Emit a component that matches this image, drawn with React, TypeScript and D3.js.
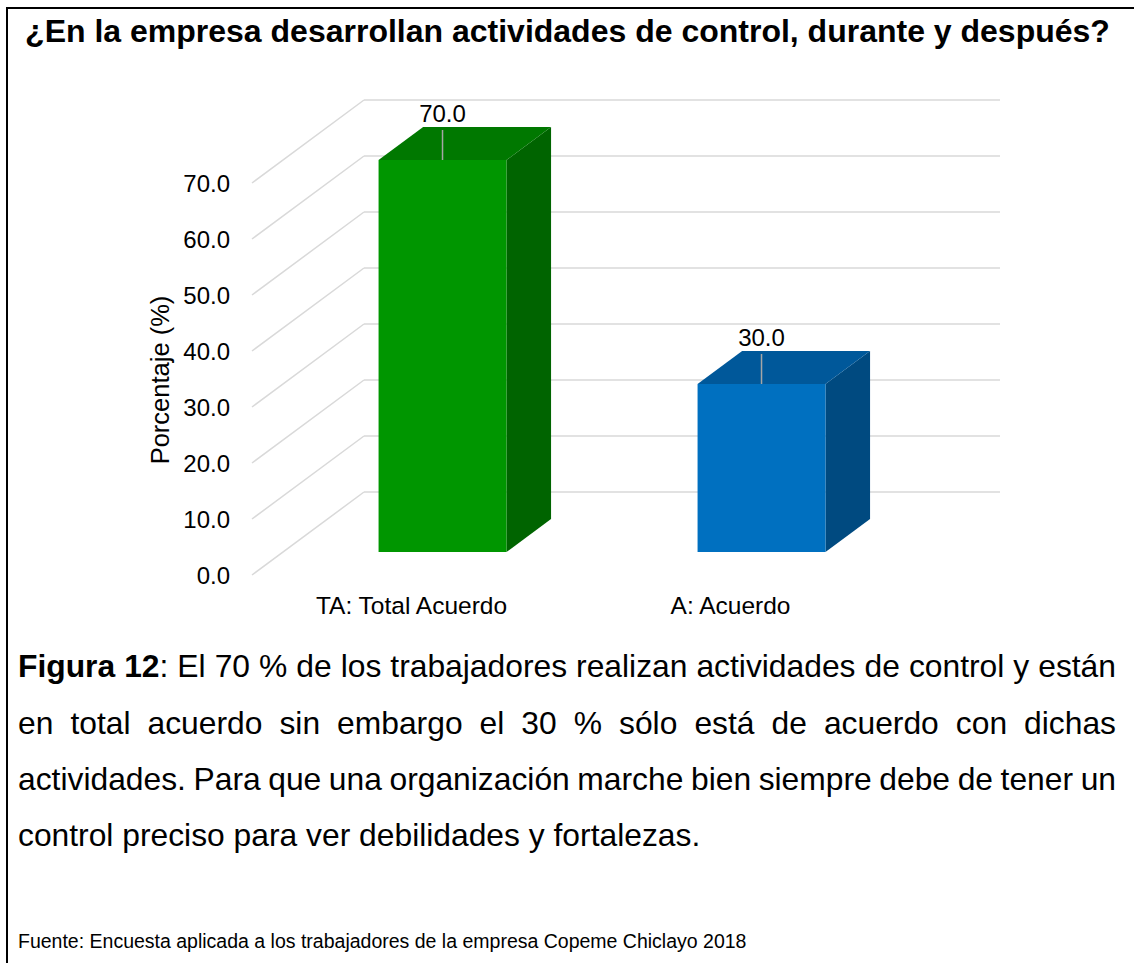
import React, { useMemo } from "react";
import * as d3 from "d3";

const categories = ["TA: Total Acuerdo", "A: Acuerdo"];
const values = [70.0, 30.0];
const yTicks = [0, 10, 20, 30, 40, 50, 60, 70];

const titleText = "¿En la empresa desarrollan actividades de control, durante y después?";
const yAxisTitle = "Porcentaje (%)";
const captionLines: { t: string; b?: boolean }[][][] = [
  [
    [{ t: "Figura", b: true }],
    [{ t: "12", b: true }, { t: ":" }],
    ..."El 70 % de los trabajadores realizan actividades de control y están".split(" ").map((w) => [{ t: w }]),
  ],
  "en total acuerdo sin embargo el 30 % sólo está de acuerdo con dichas".split(" ").map((w) => [{ t: w }]),
  "actividades. Para que una organización marche bien siempre debe de tener un".split(" ").map((w) => [{ t: w }]),
  "control preciso para ver debilidades y fortalezas.".split(" ").map((w) => [{ t: w }]),
];
const justified = [true, true, true, false];
const sourceText = "Fuente: Encuesta aplicada a los trabajadores de la empresa Copeme Chiclayo 2018";

const FONT = '"Liberation Sans", Arial, sans-serif';
const W = 1134;
const H = 963;

const colors = [
  { front: "#009600", top: "#007800", side: "#006400" },
  { front: "#0070C0", top: "#00589A", side: "#004A80" },
];

export default function App() {
  const x = d3.scaleBand<string>().domain(categories).range([252, 890]).paddingInner(0).paddingOuter(0);
  const y = d3.scaleLinear().domain([0, 70]).range([575, 183]);
  const DX = 112;
  const DY = -83;
  const z0 = 0.277;
  const z1 = 0.675;
  const barW = x.bandwidth() * 0.401;

  const capFont = 31.8;
  const capLeft = 18;
  const capRight = 1116;
  const capBase = [677, 734, 790, 846];

  const layout = useMemo(() => {
    const canvas = document.createElement("canvas");
    const ctx = canvas.getContext("2d")!;
    const measure = (s: string, b?: boolean) => {
      ctx.font = `${b ? "bold " : ""}${capFont}px ${FONT}`;
      return ctx.measureText(s).width;
    };
    const spaceW = measure(" ");
    return captionLines.map((words, li) => {
      const widths = words.map((w) => w.reduce((a, seg) => a + measure(seg.t, seg.b), 0));
      const total = widths.reduce((a, b) => a + b, 0);
      const gap = justified[li] ? (capRight - capLeft - total) / (words.length - 1) : spaceW;
      let cx = capLeft;
      return words.map((w, i) => {
        const pos = cx;
        cx += widths[i] + gap;
        return { w, x: pos };
      });
    });
  }, []);

  const P = (px: number, py: number, z: number) => [px + DX * z, py + DY * z];

  return (
    <svg
      width={W}
      height={H}
      style={{ position: "absolute", left: 0, top: 0, background: "#fff" }}
      fontFamily={FONT}
    >
      <rect x={0} y={0} width={W} height={H} fill="#fff" />
      <path d={`M7,${H} V8 H${W}`} fill="none" stroke="#000" strokeWidth={2} />

      <text x={W / 2 + 0.5} y={42} textAnchor="middle" fontSize={32} fontWeight="bold" fill="#000">
        {titleText}
      </text>

      {yTicks.map((t) => {
        const x0 = x.range()[0];
        const x1 = x.range()[1];
        const yy = y(t);
        return (
          <g key={t}>
            <line x1={x0} y1={yy} x2={x0 + DX} y2={yy + DY} stroke="#d9d9d9" strokeWidth={1.5} />
            <line x1={x0 + DX} y1={yy + DY} x2={x1 + DX - 2} y2={yy + DY} stroke="#d9d9d9" strokeWidth={1.5} />
            <text x={230} y={yy + 8.5} textAnchor="end" fontSize={24} fill="#000">
              {t.toFixed(1)}
            </text>
          </g>
        );
      })}

      {categories.map((c, i) => {
        const cx = (x(c) as number) + x.bandwidth() / 2;
        const l = cx - barW / 2;
        const r = cx + barW / 2;
        const yt = y(values[i]);
        const yb = y(0);
        const fl = P(l, yt, z0);
        const fr = P(r, yt, z0);
        const br = P(r, yt, z1);
        const bl = P(l, yt, z1);
        const frb = P(r, yb, z0);
        const brb = P(r, yb, z1);
        const flb = P(l, yb, z0);
        const col = colors[i];
        const pts = (a: number[][]) => a.map((p) => p.join(",")).join(" ");
        const fcx = (fl[0] + fr[0]) / 2;
        return (
          <g key={c}>
            <polygon points={pts([fr, br, brb, frb])} fill={col.side} />
            <polygon points={pts([fl, fr, br, bl])} fill={col.top} />
            <polygon points={pts([fl, fr, frb, flb])} fill={col.front} />
            <line x1={fcx} y1={fl[1]} x2={fcx} y2={fl[1] - 30} stroke="#a6a6a6" strokeWidth={1.5} />
            <text x={fcx} y={fl[1] - 38} textAnchor="middle" fontSize={24} fill="#000">
              {values[i].toFixed(1)}
            </text>
          </g>
        );
      })}

      {categories.map((c) => (
        <text
          key={c}
          x={(x(c) as number) + x.bandwidth() / 2}
          y={614}
          textAnchor="middle"
          fontSize={24.5}
          fill="#000"
        >
          {c}
        </text>
      ))}

      <text
        transform="translate(160,380) rotate(-90)"
        textAnchor="middle"
        dominantBaseline="central"
        fontSize={25.5}
        fill="#000"
      >
        {yAxisTitle}
      </text>

      {layout.map((line, li) =>
        line.map((wd, wi) => (
          <text key={`${li}-${wi}`} x={wd.x} y={capBase[li]} fontSize={capFont} fill="#000">
            {wd.w.map((seg, si) => (
              <tspan key={si} fontWeight={seg.b ? "bold" : "normal"}>
                {seg.t}
              </tspan>
            ))}
          </text>
        ))
      )}

      <text x={18} y={948} fontSize={19.5} fill="#000">
        {sourceText}
      </text>
    </svg>
  );
}
